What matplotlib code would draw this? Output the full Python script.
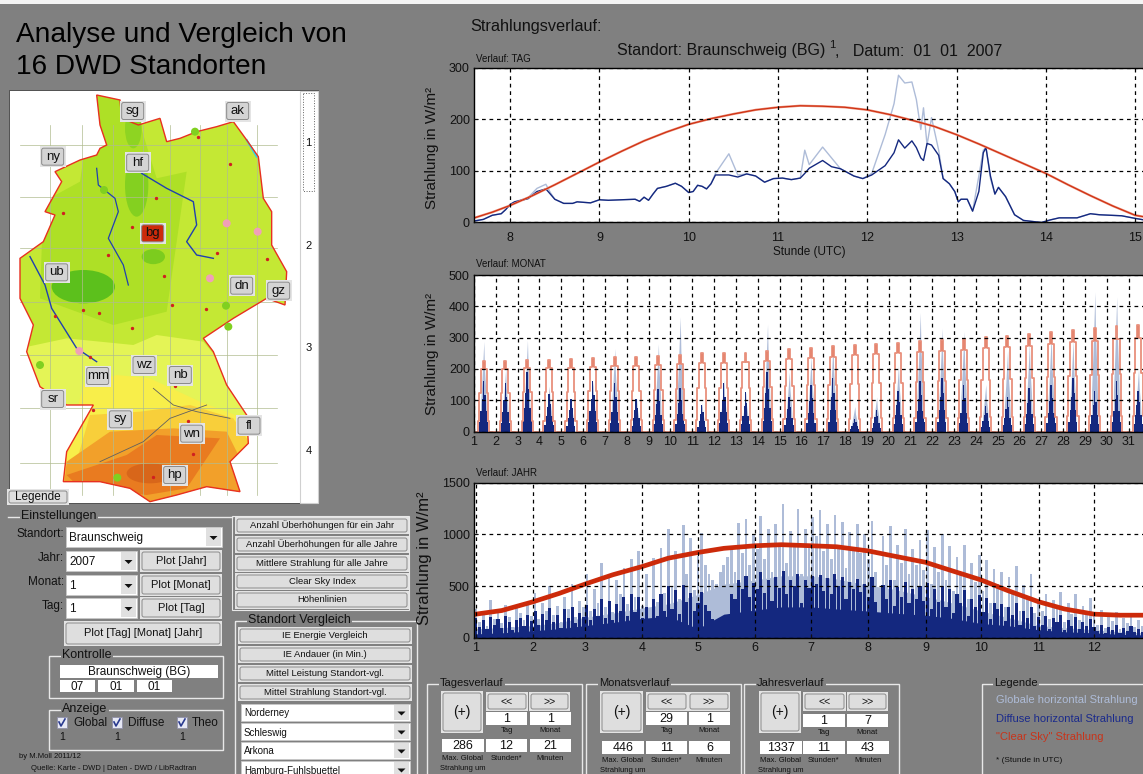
import numpy as np
from matplotlib import pyplot as plt
from matplotlib.patches import Polygon, Rectangle, FancyBboxPatch, Ellipse, Circle

plt.rcParams['font.family'] = ['Liberation Sans', 'DejaVu Sans']

W, H = 1143, 774
BG = '#808080'
C_GLOB = '#aebcd8'
C_DIFF = '#14287f'
C_THEO = '#cc2a0a'

# --- TAG panel
tag_h = [7.6, 7.7, 7.8, 7.9, 7.95, 8, 8.05, 8.2, 8.3, 8.4, 8.45, 8.5, 8.6, 8.7, 8.75, 8.9, 9, 9.1, 9.4, 9.45,
         9.5, 9.55, 9.6, 9.65, 9.75, 9.85, 9.92, 10, 10.05, 10.1, 10.15, 10.2, 10.25, 10.3, 10.45, 10.55,
         10.65, 10.75, 10.85, 10.95, 11.05, 11.15, 11.25, 11.3, 11.35, 11.5, 11.6, 11.7, 11.85, 11.95, 12.05,
         12.2, 12.3, 12.35, 12.42, 12.5, 12.55, 12.6, 12.63, 12.67, 12.72, 12.8, 12.85, 12.92, 12.98, 13.02,
         13.05, 13.12, 13.18, 13.25, 13.3, 13.33, 13.38, 13.43, 13.47, 13.55, 13.65, 13.75, 13.95, 14.05,
         14.15, 14.35, 14.5, 14.6, 14.85, 15, 15.1]
tag_diff = [3, 6, 14, 17, 25, 35, 40, 46, 60, 65, 55, 45, 37, 37, 40, 38, 44, 43, 45, 41,
            49, 43, 55, 66, 70, 76, 70, 58, 60, 72, 70, 65, 75, 92, 92, 88,
            94, 90, 78, 85, 86, 83, 86, 95, 105, 120, 108, 104, 90, 85, 92,
            110, 135, 160, 144, 158, 145, 125, 120, 153, 150, 130, 85, 75, 60, 40,
            45, 45, 22, 60, 135, 145, 90, 55, 68, 50, 15, 4, 0, 5,
            9, 9, 17, 15, 13, 8, 5]
tag_glob = [3, 6, 14, 17, 25, 35, 40, 48, 66, 74, 58, 45, 37, 37, 40, 38, 44, 43, 45, 41,
            49, 43, 55, 66, 70, 76, 70, 58, 60, 72, 70, 65, 75, 95, 133, 92,
            94, 90, 78, 85, 86, 83, 86, 140, 112, 146, 125, 104, 90, 85, 95,
            170, 230, 285, 270, 272, 238, 180, 222, 150, 203, 140, 85, 75, 60, 40,
            45, 45, 22, 90, 140, 145, 85, 55, 68, 50, 15, 4, 0, 5,
            9, 9, 17, 15, 13, 8, 5]
tag_theo_h = [7.6, 7.8, 8, 8.25, 8.5, 8.75, 9, 9.25, 9.5, 9.75, 10, 10.25, 10.5, 10.75, 11, 11.25, 11.5, 11.75,
              12, 12.25, 12.5, 12.75, 13, 13.25, 13.5, 13.75, 14, 14.25, 14.5, 14.75, 15, 15.1]
tag_theo = [9, 20, 33, 52, 73, 95, 117, 138, 158, 175, 190, 201, 210, 218, 223, 226, 225, 223,
            218, 209, 198, 186, 170, 152, 133, 114, 95, 73, 52, 32, 14, 11]

# --- MONAT panel
mon_days = list(range(1, 32))
mon_theo = [226, 226, 229, 229, 232, 235, 237, 238, 242, 246, 250, 250, 252, 256, 262, 268, 272, 276, 280, 284,
            288, 292, 297, 302, 306, 312, 318, 324, 330, 336, 340]
mon_glob = [288, 200, 292, 145, 105, 160, 265, 105, 280, 367, 90, 165, 125, 342, 190, 240, 280, 80, 110, 210,
            380, 330, 320, 150, 260, 280, 310, 290, 446, 430, 200]
mon_diff = [160, 155, 190, 120, 105, 160, 155, 105, 135, 140, 85, 155, 125, 190, 110, 150, 170, 40, 70, 130,
            160, 170, 150, 80, 110, 140, 150, 170, 130, 160, 130]
day_frac = [0, .18, .24, .30, .395, .485, .58, .64, .70, 1]
shape_theo = [0, .15, .55, .88, 1, .88, .55, .15, 0, 0]
glob_frac = [.30, .36, .41, .45, .48, .54, .60]
shape_glob = [.3, .55, .8, 1, .7, .45, 0]
diff_frac = [.22, .29, .35, .40, .47, .53, .60, .65]
shape_diff = [.18, .4, .65, 1, .72, .4, .18, 0]

# --- JAHR panel, every second day
jahr_glob = [280, 150, 230, 120, 370, 180, 260, 140, 320, 200, 110, 290, 240, 170, 330, 210,
             430, 180, 340, 260, 500, 220, 310, 150, 400, 280, 520, 200, 360, 300,
             620, 260, 470, 340, 720, 300, 610, 250, 560, 420, 680, 330, 760, 400, 840, 310,
             620, 240, 770, 350, 870, 430, 1050, 500, 840, 380, 1090, 620, 960, 460, 790,
             1010, 700, 620, 560, 520, 640, 700, 780, 880, 640, 1110, 820, 1150, 700, 1000, 860,
             1180, 760, 1050, 640, 1100, 880, 1290, 720, 1030, 900, 1240, 620, 1050, 870, 1170,
             980, 1230, 840, 1100, 760, 1190, 900, 1120, 680, 1020, 860, 1100, 820, 1000, 760,
             1130, 640, 240, 980, 700, 1080, 560, 900, 720, 1050, 620, 860, 700, 950, 660,
             1040, 520, 880, 640, 1000, 560, 890, 450, 780, 620, 900, 380, 720, 540, 800,
             450, 750, 340, 670, 520, 640, 300, 590, 420, 690, 260, 510, 380, 620, 240,
             380, 260, 420, 180, 370, 300, 440, 150, 340, 230, 420, 170, 310, 250, 390,
             220, 130, 270, 100, 210, 160, 250, 90, 190, 140, 230, 110, 170, 120, 200, 150]
jahr_diff = [190, 110, 170, 90, 200, 130, 180, 100, 210, 150, 80, 170, 190, 120, 220, 160,
             260, 130, 230, 170, 290, 150, 220, 100, 280, 190, 300, 140, 240, 200,
             320, 170, 280, 210, 380, 190, 360, 170, 330, 260, 400, 210, 420, 250, 400, 190,
             300, 150, 380, 210, 420, 260, 500, 280, 460, 230, 510, 350, 430, 260, 340,
             440, 320, 260, 180, 120, 90, 100, 130, 420, 380, 560, 470, 600, 400, 530, 470,
             640, 430, 560, 360, 590, 480, 650, 420, 560, 500, 620, 340, 560, 480, 600,
             520, 610, 450, 580, 420, 620, 500, 590, 380, 540, 470, 570, 440, 520, 400,
             590, 350, 130, 510, 380, 560, 310, 490, 400, 540, 340, 470, 380, 500, 360,
             530, 280, 470, 350, 500, 300, 470, 240, 420, 340, 460, 210, 380, 300, 410,
             250, 390, 180, 340, 280, 330, 160, 300, 220, 340, 130, 260, 190, 300, 120,
             200, 130, 210, 90, 190, 150, 220, 80, 170, 120, 200, 90, 150, 120, 180,
             110, 70, 130, 50, 110, 80, 130, 45, 100, 70, 120, 60, 90, 60, 100, 75]
# closed lower part of the bursts, read per half month
jahr_base_doy = [1, 15, 32, 46, 60, 75, 91, 105, 121, 135, 152, 166, 182, 196, 213, 227, 244, 258, 274, 288, 305,
                 319, 335, 349, 362]
jahr_glob_base = [90, 100, 120, 150, 200, 240, 290, 330, 420, 520, 560, 600, 600, 570, 510, 470, 400, 340, 260,
                  200, 120, 100, 80, 60, 50]
jahr_diff_base = [40, 50, 70, 90, 120, 150, 190, 210, 90, 230, 270, 300, 300, 280, 260, 240, 220, 190, 140,
                  120, 80, 60, 50, 35, 30]
jahr_theo = [230, 265, 350, 430, 520, 610, 690, 770, 825, 865, 890, 900, 890, 880, 840, 790, 730, 650, 560, 460,
             350, 280, 230, 220, 220]
month_starts = [1, 32, 60, 91, 121, 152, 182, 213, 244, 274, 305, 335]
month_labels = ['1', '2', '3', '4', '5', '6', '7', '8', '9', '10', '11', '12']

# --- map outline etc., in crop coordinates of the map region
germany = [(290, 30), (360, 45), (365, 100), (415, 120), (480, 100), (500, 170), (540, 160), (590, 140), (650, 125),
           (700, 110), (740, 165), (775, 215), (790, 340), (815, 380), (815, 480), (860, 560), (855, 660), (800, 640),
           (700, 700), (640, 740), (610, 760), (640, 800), (680, 900), (740, 990), (745, 1075), (690, 1130),
           (720, 1220), (620, 1205), (530, 1230), (450, 1250), (390, 1210), (300, 1190), (190, 1190), (200, 1100),
           (280, 960), (200, 960), (120, 905), (80, 800), (100, 720), (60, 640), (60, 520), (130, 470), (165, 390),
           (135, 380), (185, 290), (165, 260), (240, 225), (290, 210), (300, 190), (320, 180), (300, 120)]
stations = ['sg', 'ak', 'ny', 'hf', 'bg', 'ub', 'dn', 'gz', 'wz', 'mm', 'nb', 'sr', 'sy', 'fl', 'wn', 'hp']
station_x = [398, 713, 158, 413, 458, 170, 725, 836, 432, 293, 541, 158, 361, 747, 575, 524]
station_y = [78, 78, 215, 233, 445, 562, 602, 617, 840, 873, 870, 942, 1003, 1022, 1046, 1170]
town_x = [595, 690, 468, 190, 395, 323, 492, 652, 800, 298, 248, 165, 395, 617, 515, 280, 525, 578, 460, 270, 563]
town_y = [155, 237, 340, 385, 425, 510, 572, 505, 522, 685, 676, 692, 728, 673, 660, 975, 902, 1107, 1175, 815, 1008]
marker_x = [680, 773, 630, 238, 585, 312, 120, 352, 678, 685]
marker_y = [415, 440, 580, 798, 140, 315, 840, 1178, 662, 725]
marker_c = ['#f0a0b8', '#f0a0b8', '#f0a0b8', '#f0a0b8', '#80d020', '#80d020', '#80d020', '#80d020', '#80d020', '#80d020']


fig = plt.figure(figsize=(W / 100, H / 100), dpi=100, facecolor=BG)
ui = fig.add_axes([0, 0, 1, 1], zorder=0)
ui.set_xlim(0, W)
ui.set_ylim(H, 0)
ui.axis('off')


def txt(x, y, s, size=8, ha='left', color='#111111', **kw):
    return ui.text(x, y, s, fontsize=size, ha=ha, va='center', color=color, zorder=6, **kw)


def btn(x0, y0, x1, y1, s='', size=7.5, face='#dedede'):
    ui.add_patch(Rectangle((x0 - 1, y0 - 1), x1 - x0 + 2, y1 - y0 + 2, fc='#e4e4e4', ec='none', zorder=3))
    ui.add_patch(FancyBboxPatch((x0 + 1, y0 + 1), x1 - x0 - 2, y1 - y0 - 2, boxstyle='round,pad=0,rounding_size=2',
                                fc=face, ec='#8a8a8a', lw=0.7, zorder=4))
    if s:
        txt((x0 + x1) / 2, (y0 + y1) / 2, s, size, ha='center')


def edit(x0, y0, x1, y1, s='', size=9):
    ui.add_patch(Rectangle((x0, y0), x1 - x0, y1 - y0, fc='white', ec='none', zorder=3))
    if s:
        txt((x0 + x1) / 2, (y0 + y1) / 2 + 0.5, s, size, ha='center')


def combo(x0, y0, x1, y1, s, size=8.5):
    ui.add_patch(Rectangle((x0, y0), x1 - x0, y1 - y0, fc='white', ec='#c8c8c8', lw=0.6, zorder=3))
    ui.add_patch(Rectangle((x1 - 16, y0 + 1), 15, y1 - y0 - 2, fc='#e0e0e0', ec='none', zorder=4))
    cx, cy = x1 - 8.5, (y0 + y1) / 2 + 1
    ui.add_patch(Polygon([(cx - 4, cy - 2), (cx + 4, cy - 2), (cx, cy + 2)], fc='#111111', ec='none', zorder=5))
    txt(x0 + 3, (y0 + y1) / 2 + 1, s, size)


def group(x0, y0, x1, y1, s, tx, size=9, top_only=False):
    if top_only:
        ui.plot([x0, x1], [y0, y0], color='#e8e8e8', lw=1.0, zorder=2)
    else:
        ui.add_patch(Rectangle((x0, y0), x1 - x0, y1 - y0, fc='none', ec='#e8e8e8', lw=1.0, zorder=2))
    t = txt(tx, y0 - 1, s, size)
    t.set_bbox(dict(fc=BG, ec='none', pad=1))


# top light strip
ui.add_patch(Rectangle((0, 0), W, 4, fc='#f4f4f4', ec='none', zorder=1))

txt(16, 35, 'Analyse und Vergleich von', 20.2, color='#000000')
txt(16, 67, '16 DWD Standorten', 20.2, color='#000000')

# map panel
ui.add_patch(Rectangle((9, 90), 309, 413, fc='white', ec='#404040', lw=0.6, zorder=1))
z = np.array(germany, float)
poly = np.column_stack([z[:, 0] / 3, 85 + z[:, 1] / 3])
land = Polygon(poly, fc='#c4e834', ec='none', zorder=2)
ui.add_patch(land)


def zp(points):
    p = np.array(points, float)
    return np.column_stack([p[:, 0] / 3, 85 + p[:, 1] / 3])


bands = [([(280, 20), (390, 20), (470, 280), (560, 260), (530, 470), (500, 680), (340, 720), (120, 640), (130, 350),
           (240, 290)], '#aee026'),
         ([(60, 790), (200, 760), (400, 780), (470, 750), (610, 770), (800, 1000), (800, 1300), (100, 1300)], '#e4f456'),
         ([(250, 900), (350, 870), (450, 880), (600, 950), (760, 1010), (800, 1300), (150, 1300)], '#f8ee4a'),
         ([(270, 990), (420, 980), (570, 960), (700, 1000), (760, 1090), (760, 1300), (180, 1300)], '#f8cf3a'),
         ([(200, 1130), (330, 1040), (520, 1030), (680, 1040), (720, 1120), (740, 1300), (180, 1300)], '#f2a02a'),
         ([(200, 1170), (380, 1110), (470, 1050), (660, 1060), (600, 1150), (560, 1210), (440, 1230), (230, 1200)],
          '#e97b20')]
for pts, col in bands:
    p = Polygon(zp(pts), fc=col, ec='none', zorder=2)
    ui.add_patch(p)
    p.set_clip_path(land)
for cx, cy, w, h, col in [(410, 300, 70, 190, '#84d020'), (400, 130, 50, 120, '#8ed422'), (250, 605, 190, 100, '#5cc01c'),
                          (460, 515, 70, 45, '#7ccc1e'), (450, 1165, 140, 60, '#d8661a')]:
    ui.add_patch(Ellipse((cx / 3, 85 + cy / 3), w / 3, h / 3, fc=col, ec='none', zorder=2))
# grid of the map sheet
for gy in [180, 335, 490, 650, 810, 970, 1135]:
    ui.plot([60 / 3, 830 / 3], [85 + gy / 3] * 2, color='#b0bc90', lw=0.5, zorder=2)
for gx in [150, 245, 340, 430, 510, 600, 680, 770]:
    ui.plot([gx / 3] * 2, [85 + 120 / 3, 85 + 1230 / 3], color='#b0bc90', lw=0.5, zorder=2)
# rivers
for pts, col, lw in [([(290, 250), (295, 300), (345, 340), (355, 380), (325, 460), (370, 540), (385, 600)], '#2040b0', 0.9),
                     ([(425, 265), (500, 310), (580, 350), (590, 420), (560, 470), (590, 510), (640, 520)], '#2040b0', 1.0),
                     ([(90, 515), (135, 600), (155, 670), (205, 750), (230, 790), (290, 830)], '#2040b0', 1.0),
                     ([(460, 910), (520, 960), (590, 980), (690, 1000)], '#606060', 0.6),
                     ([(300, 1130), (430, 1070), (510, 1000), (620, 960)], '#606060', 0.6),
                     ([(740, 165), (770, 215)], '#30d0f0', 1.4)]:
    q = zp(pts)
    ui.plot(q[:, 0], q[:, 1], color=col, lw=lw, zorder=2)
ui.add_patch(Polygon(poly, fc='none', ec='#e83020', lw=1.0, zorder=2))
ui.scatter(np.array(town_x) / 3, 85 + np.array(town_y) / 3, s=2, color='#d02020', zorder=2)
for mx, my, mc in zip(marker_x, marker_y, marker_c):
    ui.add_patch(Circle((mx / 3, 85 + my / 3), 4, fc=mc, ec='none', zorder=2))
for s, zx, zy in zip(stations, station_x, station_y):
    cx, cy = zx / 3, 85 + zy / 3
    btn(cx - 12, cy - 9.5, cx + 12, cy + 9.5, s, 9.5, face='#cc2a0a' if s == 'bg' else '#d4d4d4')

# tabs of the map panel
ui.add_patch(Rectangle((300, 91), 18, 412, fc='white', ec='#d0d0d0', lw=0.8, zorder=3))
for ty, s in zip([143, 246, 348, 451], ['1', '2', '3', '4']):
    txt(308.5, ty, s, 8, ha='center')
ui.add_patch(Rectangle((303, 93), 11, 98, fc='none', ec='#606060', lw=0.7, ls=':', zorder=4))
btn(8, 490, 68, 504, 'Legende', 8.5)

# Einstellungen
group(8, 517, 232, 517, 'Einstellungen', 21, top_only=True)
for y, s in [(534, 'Standort:'), (558, 'Jahr:'), (582, 'Monat:'), (606, 'Tag:')]:
    txt(64, y, s, 8.5, ha='right')
combo(66, 527, 222, 547, 'Braunschweig')
combo(66, 551, 137, 571, '2007')
combo(66, 575, 137, 595, '1')
combo(66, 598, 137, 618, '1')
btn(141, 551, 221, 571, 'Plot [Jahr]', 8)
btn(141, 575, 221, 595, 'Plot [Monat]', 8)
btn(141, 598, 221, 618, 'Plot [Tag]', 8)
btn(65, 622, 221, 645, 'Plot [Tag] [Monat] [Jahr]', 8)

group(49, 656, 223, 698, 'Kontrolle', 62)
edit(60, 665, 218, 678, 'Braunschweig (BG)', 8.5)
edit(60, 680, 95, 692, '07', 8.5)
edit(98, 680, 134, 692, '01', 8.5)
edit(137, 680, 172, 692, '01', 8.5)

group(49, 710, 223, 750, 'Anzeige', 62)
for cx, s, ox in [(62, 'Global', 73), (117, 'Diffuse', 128), (182, 'Theo', 192)]:
    ui.add_patch(Rectangle((cx - 5, 717), 10, 11, fc='#e6e8f4', ec='#9090a8', lw=0.6, zorder=4))
    ui.plot([cx - 3, cx - 1, cx + 3], [722, 726, 719], color='#2a3a90', lw=1.2, zorder=5)
    txt(ox, 723, s, 8.5)
    txt(cx, 737, '1', 7.5, ha='center')
txt(19, 756, 'by M.Moll 2011/12', 5.5)
txt(31, 768, 'Quelle: Karte - DWD | Daten - DWD / LibRadtran', 5.5)

# Buttons mitte
ui.add_patch(Rectangle((232, 516), 177, 94, fc='none', ec='#e8e8e8', lw=0.8, zorder=2))
for (y0, y1), s in zip([(518, 533), (537, 552), (556, 571), (574, 589), (592, 608)],
                       ['Anzahl Überhöhungen für ein Jahr', 'Anzahl Überhöhungen für alle Jahre',
                        'Mittlere Strahlung für alle Jahre', 'Clear Sky Index', 'Höhenlinien']):
    btn(236, y0, 408, y1, s, 6.8)
group(235, 621, 417, 785, 'Standort Vergleich', 248)
for (y0, y1), s in zip([(628, 643), (647, 662), (666, 681), (685, 700)],
                       ['IE Energie Vergleich', 'IE Andauer (in Min.)', 'Mittel Leistung Standort-vgl.',
                        'Mittel Strahlung Standort-vgl.']):
    btn(239, y0, 411, y1, s, 6.8)
for (y0, y1), s in zip([(704, 721), (723, 740), (742, 759), (761, 778)],
                       ['Norderney', 'Schleswig', 'Arkona', 'Hamburg-Fuhlsbuettel']):
    combo(241, y0, 410, y1, s, 7)

# Bottom panels
for name, gx0, gx1, tx, plus, prev, nxt, e1, e2, ey, bx, by, vals in [
    ('Tagesverlauf', 427, 582, 440, (442, 482), (487, 527), (530, 569), (486, 527), (530, 571), 712,
     [(442, 484), (486, 527), (530, 571)], 739, ['1', '1', '286', '12', '21']),
    ('Monatsverlauf', 586, 741, 599, (601, 642), (647, 687), (689, 729), (646, 687), (689, 730), 712,
     [(602, 644), (646, 687), (689, 730)], 741, ['29', '1', '446', '11', '6']),
    ('Jahresverlauf', 744, 899, 757, (760, 800), (804, 845), (848, 887), (803, 845), (847, 888), 714,
     [(760, 802), (803, 845), (847, 889)], 741, ['1', '7', '1337', '11', '43'])]:
    group(gx0, 684, gx1, 785, name, tx, 8)
    btn(plus[0], 692, plus[1], 732, '(+)', 10)
    btn(prev[0], 693, prev[1], 710, '<<', 7.5)
    btn(nxt[0], 693, nxt[1], 710, '>>', 7.5)
    edit(e1[0], ey, e1[1], ey + 13, vals[0])
    edit(e2[0], ey, e2[1], ey + 13, vals[1])
    txt(sum(e1) / 2, ey + 19, 'Tag', 5.5, ha='center')
    txt(sum(e2) / 2, ey + 18, 'Monat', 5.5, ha='center')
    for (x0, x1), v in zip(bx, vals[2:]):
        edit(x0, by, x1, by + 13, v)
    txt(sum(bx[0]) / 2, by + 19, 'Max. Global', 5.5, ha='center')
    txt(sum(bx[0]) / 2, by + 30, 'Strahlung um', 5.5, ha='center')
    txt(sum(bx[1]) / 2, by + 19, 'Stunden*', 5.5, ha='center')
    txt(sum(bx[2]) / 2, by + 19, 'Minuten', 5.5, ha='center')

group(982, 684, 1150, 785, 'Legende', 994, 8)
txt(996, 700, 'Globale horizontal Strahlung', 8, color=C_GLOB)
txt(996, 719, 'Diffuse horizontal Strahlung', 8, color='#1a2a8c')
txt(996, 737, '"Clear Sky" Strahlung', 8, color='#c8341a')
txt(996, 761, '* (Stunde in UTC)', 6)

# chart headings
txt(470, 27, 'Strahlungsverlauf:', 11.7)
txt(617, 51, 'Standort: Braunschweig (BG)', 11.5)
txt(829, 45, '1', 8)
txt(835, 51, ',   Datum:  01  01  2007', 11.5)
txt(476, 59, 'Verlauf: TAG', 7)
txt(476, 264, 'Verlauf: MONAT', 7)
txt(476, 473, 'Verlauf: JAHR', 7)
txt(809, 252, 'Stunde (UTC)', 8.5, ha='center')
txt(432, 148, 'Strahlung in W/m²', 11, ha='center', rotation=90)
txt(432, 354, 'Strahlung in W/m²', 11, ha='center', rotation=90)
txt(424, 558, 'Strahlung in W/m²', 12, ha='center', rotation=90)


def chart(top, bottom, xlim, ylim, yt, xt, xl=None, pad=3):
    ax = fig.add_axes([474 / W, 1 - bottom / H, (W + 1 - 474) / W, (bottom - top) / H], zorder=2)
    ax.set_xlim(*xlim)
    ax.set_ylim(*ylim)
    ax.set_yticks(yt)
    ax.set_xticks(xt)
    if xl:
        ax.set_xticklabels(xl)
    ax.tick_params(direction='in', length=3, width=0.7, labelsize=9, pad=3, colors='#111111')
    ax.tick_params(axis='x', pad=pad)
    ax.grid(True, color='black', ls=(0, (3, 3)), lw=0.9)
    ax.set_axisbelow(False)
    for sp in ax.spines.values():
        sp.set_linewidth(1.0)
    return ax


ax1 = chart(67.5, 222.5, (7.595, 15.1), (0, 300), [0, 100, 200, 300], range(8, 16), pad=7)
ax1.plot(tag_h, tag_glob, color=C_GLOB, lw=1.0)
ax1.plot(tag_h, tag_diff, color=C_DIFF, lw=1.0)
ax1.plot(tag_theo_h, tag_theo, color='#e8806a', lw=1.6)
ax1.plot(tag_theo_h, tag_theo, color=C_THEO, lw=0.7)

ax2 = chart(275, 431.5, (1, 31.7), (0, 500), [0, 100, 200, 300, 400, 500], mon_days)
for d, t, g, dd in zip(mon_days, mon_theo, mon_glob, mon_diff):
    ax2.fill_between(d + np.array(glob_frac), np.array(shape_glob) * g, color=C_GLOB, lw=0)
    ax2.fill_between(d + np.array(diff_frac), np.array(shape_diff) * dd, step='post', color=C_DIFF, lw=0)
    xs = d + np.array(day_frac)
    lv = np.array(shape_theo) * t
    ax2.step(xs, lv, where='post', color='#e8907c', lw=1.3)
    # the top of each day is a solid red block, the flanks stay pale
    ax2.fill_between(xs[4:6], lv[3], lv[4], color=C_THEO, lw=0)

ax3 = chart(482.5, 638, (0, 362), (0, 1500), [0, 500, 1000, 1500], month_starts, month_labels)
ax3_x = np.arange(len(jahr_glob)) * 2 + 1
ax3.fill_between(jahr_base_doy, jahr_glob_base, color=C_GLOB, lw=0)
ax3.bar(ax3_x, jahr_glob, width=1.5, color=C_GLOB, lw=0)
ax3.fill_between(jahr_base_doy, jahr_diff_base, color=C_DIFF, lw=0)
ax3.bar(ax3_x, jahr_diff, width=1.7, color=C_DIFF, lw=0)
ax3.plot(jahr_base_doy, jahr_theo, color=C_THEO, lw=3.4)

fig.savefig('out.png', dpi=100, facecolor=BG)
